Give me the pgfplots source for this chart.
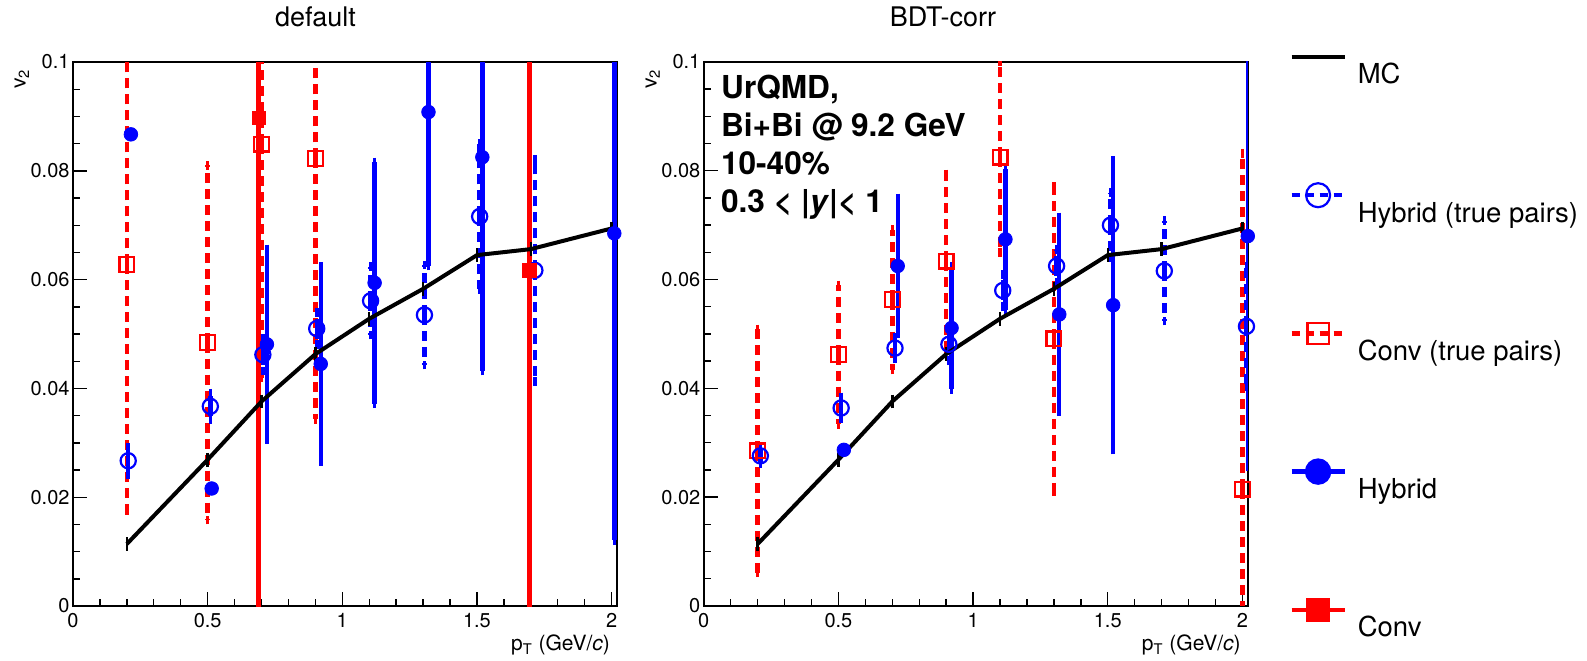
\documentclass[border=0pt]{standalone}
\usepackage{fontspec}
\setmainfont{TeX Gyre Heros}
\usepackage{pgfplots}
\pgfplotsset{compat=1.18}
\definecolor{rblue}{RGB}{0,0,255}
\definecolor{rred}{RGB}{255,0,0}
\pgfplotsset{
 base/.style={
  scale only axis, width=272pt, height=272pt,
  xmin=0, xmax=2.02, ymin=0, ymax=0.1,
  xtick={0,0.5,1,1.5,2}, xticklabels={0,0.5,1,1.5,2},
  ytick={0,0.02,0.04,0.06,0.08,0.1}, yticklabels={0,0.02,0.04,0.06,0.08,0.1},
  minor x tick num=4, minor y tick num=3,
  tick align=inside, xtick pos=lower, ytick pos=left,
  major tick length=7pt, minor tick length=3.5pt,
  every tick/.style={black, line width=0.7pt},
  axis line style={line width=1pt},
  tick label style={font=\fontsize{10}{12}\selectfont},
  yticklabel style={xshift=1.8pt},
  ylabel={v\textsubscript{2}},
  ylabel style={at={(axis description cs:-0.094,1)}, anchor=east, font=\fontsize{10.5}{12}\selectfont},
  xlabel={p\textsubscript{T} (GeV/\textit{c})},
  xlabel style={at={(axis description cs:1,0)}, anchor=north east, yshift=-11pt, font=\fontsize{10.5}{12}\selectfont},
 },
 mc/.style={black, line width=2pt, mark=none,
   error bars/y dir=both, error bars/y explicit,
   error bars/error bar style={black, line width=1.2pt},
   error bars/error mark options={black, line width=1.2pt, mark size=1.8pt}},
 hyb/.style={only marks, rblue, mark=*, mark size=3.4pt, mark options={solid},
   error bars/y dir=both, error bars/y explicit,
   error bars/error bar style={rblue, line width=2.2pt, solid},
   error bars/error mark options={rblue, line width=1.8pt, mark size=2.2pt, solid}},
 hybtp/.style={only marks, rblue, mark=o, mark size=3.8pt, mark options={solid, line width=1.1pt},
   error bars/y dir=both, error bars/y explicit,
   error bars/error bar style={rblue, line width=2.2pt, dash pattern=on 5pt off 3pt},
   error bars/error mark options={rblue, line width=1.8pt, mark size=2.2pt, solid}},
 convtp/.style={only marks, rred, mark=square, mark size=3.7pt, mark options={solid, line width=1.1pt},
   error bars/y dir=both, error bars/y explicit,
   error bars/error bar style={rred, line width=2.2pt, dash pattern=on 5pt off 3pt},
   error bars/error mark options={rred, line width=1.8pt, mark size=2.2pt, solid}},
 conv/.style={only marks, rred, mark=square*, mark size=3.3pt, mark options={solid},
   error bars/y dir=both, error bars/y explicit,
   error bars/error bar style={rred, line width=2.4pt, solid},
   error bars/error mark options={rred, line width=1.8pt, mark size=2.2pt, solid}},
}
\begin{document}
\begin{tikzpicture}
\useasboundingbox (0,0) rectangle (793.5pt,330pt);
% ---------------- left panel
\begin{axis}[base, name=L, at={(36.5pt,27pt)}, anchor=south west]
\addplot[convtp, forget plot] coordinates {
 (0.2,0.0628) +- (0,0.0452)
 (0.5,0.0484) +- (0,0.0326)
 (0.7,0.0849) +- (0,0.043)
 (0.9,0.0823) +- (0,0.048)
};
\addplot[hybtp, forget plot] coordinates {
 (0.205,0.0267) +- (0,0.0025)
 (0.51,0.0367) +- (0,0.0024)
 (0.705,0.0462) +- (0,0.003)
 (0.905,0.051) +- (0,0.003)
 (1.105,0.0561) +- (0,0.0063)
 (1.305,0.0535) +- (0,0.0092)
 (1.51,0.0716) +- (0,0.0134)
 (1.715,0.0617) +- (0,0.0204)
};
\addplot[conv, forget plot] coordinates {
 (0.69,0.0897) +- (0,0.12)
 (1.695,0.0617) +- (0,0.1)
};
\addplot[hyb, forget plot] coordinates {
 (0.72,0.0481) +- (0,0.0175)
 (0.92,0.0445) +- (0,0.0179)
 (1.12,0.0594) +- (0,0.0222)
 (1.32,0.0908) +- (0,0.0283)
 (1.52,0.0825) +- (0,0.0393)
 (2.01,0.0685) +- (0,0.0564)
};
\addplot[only marks, rblue, mark=*, mark size=3.4pt, forget plot] coordinates {
 (0.215,0.0867) (0.515,0.0216)
};
\addplot[mc, forget plot] coordinates {
 (0.2,0.0114) +- (0,0.0006)
 (0.5,0.0269) +- (0,0.0006)
 (0.7,0.0376) +- (0,0.0006)
 (0.9,0.0463) +- (0,0.0006)
 (1.1,0.0528) +- (0,0.0006)
 (1.3,0.0583) +- (0,0.0006)
 (1.5,0.0645) +- (0,0.0006)
 (1.7,0.0656) +- (0,0.0006)
 (2.0,0.0694) +- (0,0.0006)
};
\end{axis}
% ---------------- right panel
\begin{axis}[base, name=R, at={(351.9pt,27pt)}, anchor=south west,
  legend image code/.code={
    \path[draw=none, fill=none] (0pt,-7pt) rectangle (26.5pt,7pt);
    \draw[mark repeat=2, mark phase=2, #1] plot coordinates {(0pt,0pt) (13.25pt,0pt) (26.5pt,0pt)};
  },
  legend style={at={(axis description cs:1,1)}, anchor=north west, xshift=20.6pt, yshift=9.7pt,
    draw=none, fill=none, inner sep=0pt, row sep=55.1pt, column sep=5.5pt,
    nodes={inner sep=0pt}, font=\fontsize{13.75}{15}\selectfont},
  legend cell align=left]
\addlegendimage{black, line width=2pt, mark=none}
\addlegendentry{\raisebox{-14.2pt}[0pt][0pt]{MC}}
\addlegendimage{rblue, line width=2.2pt, dash pattern=on 4pt off 3pt, mark=o, mark size=6pt, mark options={solid, line width=1.1pt}}
\addlegendentry{\raisebox{-14.2pt}[0pt][0pt]{Hybrid (true pairs)}}
\addlegendimage{rred, line width=2.2pt, dash pattern=on 4pt off 3pt, mark=square, mark size=5.3pt, mark options={solid, line width=1.1pt}}
\addlegendentry{\raisebox{-14.2pt}[0pt][0pt]{Conv (true pairs)}}
\addlegendimage{rblue, line width=2.2pt, mark=*, mark size=5.5pt}
\addlegendentry{\raisebox{-14.2pt}[0pt][0pt]{Hybrid}}
\addlegendimage{rred, line width=2.2pt, mark=square*, mark size=5pt}
\addlegendentry{\raisebox{-14.2pt}[0pt][0pt]{Conv}}
\addplot[convtp, forget plot] coordinates {
 (0.2,0.0285) +- (0,0.0224)
 (0.5,0.0462) +- (0,0.0128)
 (0.7,0.0563) +- (0,0.0129)
 (0.9,0.0634) +- (0,0.016)
 (1.1,0.0825) +- (0,0.0175)
 (1.3,0.0491) +- (0,0.028)
 (2.0,0.0215) +- (0,0.0617)
};
\addplot[hybtp, forget plot] coordinates {
 (0.21,0.0276) +- (0,0.0015)
 (0.51,0.0364) +- (0,0.002)
 (0.71,0.0474) +- (0,0.002)
 (0.91,0.0481) +- (0,0.003)
 (1.11,0.058) +- (0,0.003)
 (1.31,0.0625) +- (0,0.003)
 (1.51,0.07) +- (0,0.006)
 (1.71,0.0616) +- (0,0.0092)
 (2.015,0.0514) +- (0,0.011)
};
\addplot[hyb, forget plot] coordinates {
 (0.72,0.0625) +- (0,0.0125)
 (0.92,0.0511) +- (0,0.0113)
 (1.12,0.0674) +- (0,0.013)
 (1.32,0.0536) +- (0,0.0179)
 (1.52,0.0553) +- (0,0.0266)
 (2.02,0.068) +- (0,0.0424)
};
\addplot[only marks, rblue, mark=*, mark size=3.4pt, forget plot] coordinates {
 (0.52,0.0287)
};
\addplot[mc, forget plot] coordinates {
 (0.2,0.0114) +- (0,0.0006)
 (0.5,0.0269) +- (0,0.0006)
 (0.7,0.0376) +- (0,0.0006)
 (0.9,0.0463) +- (0,0.0006)
 (1.1,0.0528) +- (0,0.0006)
 (1.3,0.0583) +- (0,0.0006)
 (1.5,0.0645) +- (0,0.0006)
 (1.7,0.0656) +- (0,0.0006)
 (2.0,0.0694) +- (0,0.0006)
};
\node[anchor=north west, align=left, inner sep=0pt, font=\fontsize{15.8}{19}\selectfont\bfseries]
  at (rel axis cs:0.031,0.976) {UrQMD,\\Bi+Bi @ 9.2 GeV\\10-40\%\\0.3 < |\textit{y}|< 1};
\end{axis}
\node[anchor=base, inner sep=0pt, font=\fontsize{13.5}{15}\selectfont] at ([xshift=-14.8pt, yshift=17.7pt]L.north) {default};
\node[anchor=base, inner sep=0pt, font=\fontsize{13.5}{15}\selectfont] at ([xshift=-16.4pt, yshift=17.7pt]R.north) {BDT-corr};
\end{tikzpicture}
\end{document}
